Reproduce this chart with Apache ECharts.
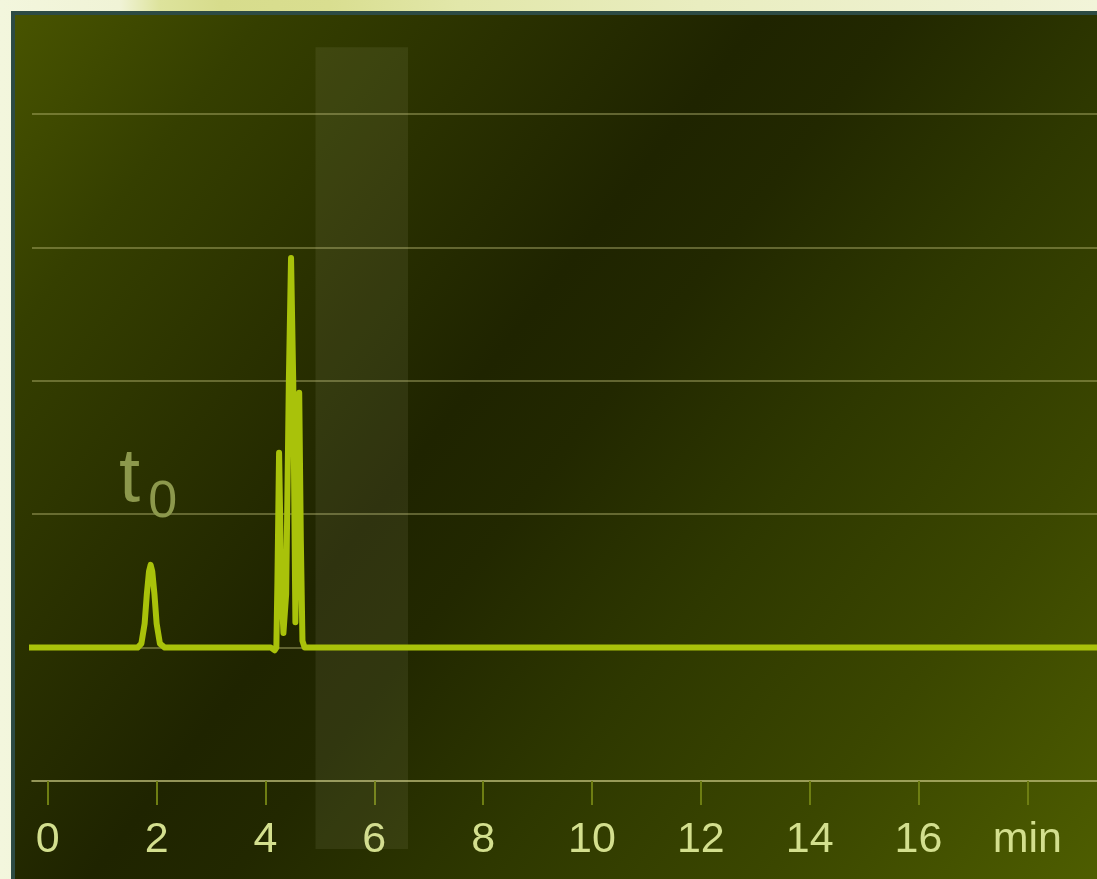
<!DOCTYPE html>
<html>
<head>
<meta charset="utf-8">
<script src="https://cdn.jsdelivr.net/npm/echarts@6/dist/echarts.min.js"></script>
<style>
  html, body { margin: 0; padding: 0; width: 1097px; height: 879px; overflow: hidden; }
  body {
    background: linear-gradient(90deg, #f3f6dd 0px, #f0f3d6 120px, #dde39c 160px, #d7dc8c 220px, #d9de90 330px, #e2e7aa 460px, #e9edc0 700px, #eff2d2 1000px, #f2f4d9 1097px);
  }
  #panel {
    position: absolute; left: 11px; top: 11px; width: 1100px; height: 880px;
    box-sizing: border-box; border-left: 4px solid #2d4b44; border-top: 4px solid #2d4b44;
    background: linear-gradient(128deg, #485400 0%, #353f00 14%, #2a3100 28%, #1f2400 42%, #222800 50%, #2e3800 64%, #3b4700 80%, #4f5f00 100%);
  }
  #chart { position: absolute; left: 0; top: 0; width: 1097px; height: 879px; }
</style>
</head>
<body>
<div id="panel"></div>
<div id="chart"></div>
<script>
// ---- data ----
const xTicks = [0, 2, 4, 6, 8, 10, 12, 14, 16, 18];
const xTickLabels = ['0', '2', '4', '6', '8', '10', '12', '14', '16', 'min'];
const times = [-0.5, 1.65, 1.72, 1.78, 1.82, 1.86, 1.89, 1.92, 1.96, 2.0, 2.06, 2.15,
               4.1, 4.17, 4.2, 4.22, 4.25, 4.29, 4.33, 4.38, 4.43, 4.47, 4.51, 4.55, 4.58, 4.62, 4.65, 4.68, 4.72, 19.5];
const signal = [0, 0, 0.03, 0.18, 0.4, 0.57, 0.62, 0.57, 0.4, 0.18, 0.03, 0,
                0, -0.02, 0.0, 0.5, 1.46, 0.5, 0.11, 0.4, 2.0, 2.92, 2.0, 0.19, 0.9, 1.91, 0.8, 0.05, 0, 0];
const t0Peak = [1.89, 0.62];
const bandX = [4.92, 6.62];
const bandY = [-1.51, 4.5];

const lineData = times.map((t, i) => [t, signal[i]]);

const chart = echarts.init(document.getElementById('chart'), null, { renderer: 'canvas' });
const gridCol = 'rgba(190,190,120,0.55)';
const option = {
  backgroundColor: 'transparent',
  animation: false,
  grid: { left: 32, right: 0, top: 114, bottom: 98, containLabel: false },
  xAxis: {
    type: 'value', min: -0.29, max: 19.28,
    axisLine: { show: true, onZero: false, lineStyle: { color: gridCol, width: 2 } },
    axisTick: { show: true, customValues: xTicks, length: 24, inside: false, lineStyle: { color: '#6e7e12', width: 2 } },
    axisLabel: {
      show: true, customValues: xTicks, margin: 38,
      formatter: v => { const i = xTicks.indexOf(v); return i >= 0 ? xTickLabels[i] : ''; },
      color: '#d3df8e', fontSize: 43, fontFamily: 'Liberation Sans Narrow, Liberation Sans, sans-serif'
    },
    splitLine: { show: false }
  },
  yAxis: {
    type: 'value', min: -1, max: 4, interval: 1,
    axisLine: { show: false }, axisTick: { show: false }, axisLabel: { show: false },
    splitLine: { show: true, lineStyle: { color: gridCol, width: 1.5 } }
  },
  series: [{
    type: 'line', data: lineData, clip: false, showSymbol: false, symbol: 'none',
    lineStyle: { color: '#a9c20a', width: 6, join: 'round', cap: 'round' },
    z: 5,
    markPoint: {
      symbol: 'circle', symbolSize: 0, silent: true,
      data: [
        { coord: t0Peak, label: { show: true, position: 'inside', formatter: 't', offset: [-21, -85], color: '#8c984c', fontSize: 76, fontFamily: 'Liberation Sans, sans-serif' } },
        { coord: t0Peak, label: { show: true, position: 'inside', formatter: '0', offset: [12, -62], color: '#8c984c', fontSize: 52, fontFamily: 'Liberation Sans, sans-serif' } }
      ]
    }
  }]
};
chart.setOption(option);

const p1 = chart.convertToPixel({ gridIndex: 0 }, [bandX[0], bandY[1]]);
const p2 = chart.convertToPixel({ gridIndex: 0 }, [bandX[1], bandY[0]]);
chart.setOption({
  graphic: [{
    type: 'rect', z: 1,
    shape: { x: p1[0], y: p1[1], width: p2[0] - p1[0], height: p2[1] - p1[1] },
    style: { fill: 'rgba(210,210,170,0.09)' }
  }]
});
</script>
</body>
</html>
